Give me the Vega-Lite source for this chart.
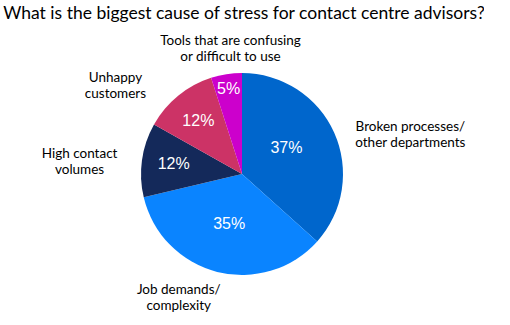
{
  "$schema": "https://vega.github.io/schema/vega-lite/v6.json",
  "width": 484,
  "height": 296,
  "autosize": "none",
  "padding": {"left": 0, "top": 26, "right": 0, "bottom": 0},
  "background": "white",
  "title": {
    "text": "What is the biggest cause of stress for contact centre advisors?",
    "font": "Lato",
    "fontSize": 17.5,
    "fontWeight": "normal",
    "color": "#000000",
    "anchor": "middle",
    "offset": 4,
    "dx": 2
  },
  "data": {
    "values": [
      {"cause": "Broken processes/\nother departments", "pct": 37, "label": "37%", "rank": 1},
      {"cause": "Job demands/\ncomplexity", "pct": 35, "label": "35%", "rank": 2},
      {"cause": "High contact\nvolumes", "pct": 12, "label": "12%", "rank": 3},
      {"cause": "Unhappy\ncustomers", "pct": 12, "label": "12%", "rank": 4},
      {"cause": "Tools that are confusing\nor difficult to use", "pct": 5, "label": "5%", "rank": 5}
    ]
  },
  "encoding": {
    "theta": {"field": "pct", "type": "quantitative", "stack": true},
    "order": {"field": "rank", "type": "quantitative"},
    "detail": {"field": "cause", "type": "nominal"}
  },
  "layer": [
    {
      "mark": {"type": "arc", "outerRadius": 101},
      "encoding": {
        "color": {
          "field": "cause",
          "type": "nominal",
          "scale": {
            "domain": [
              "Broken processes/\nother departments",
              "Job demands/\ncomplexity",
              "High contact\nvolumes",
              "Unhappy\ncustomers",
              "Tools that are confusing\nor difficult to use"
            ],
            "range": ["#0066CC", "#0A84FF", "#14295A", "#CC3366", "#CC00CC"]
          },
          "legend": null
        }
      }
    },
    {
      "mark": {
        "type": "text",
        "font": "Liberation Sans",
        "fontSize": 16,
        "color": "white",
        "align": "center",
        "baseline": "middle",
        "radius": {"expr": "datum.pct >= 30 ? 52 : (datum.pct >= 10 ? 69 : 86)"},
        "dx": {"expr": "datum.rank == 1 ? -3 : 0"},
        "dy": {"expr": "datum.rank == 1 ? -5 : 0"}
      },
      "encoding": {"text": {"field": "label", "type": "nominal"}}
    },
    {
      "mark": {
        "type": "text",
        "font": "Lato",
        "fontSize": 13.5,
        "color": "#000000",
        "align": "center",
        "baseline": "middle",
        "lineBreak": "\n",
        "lineHeight": 16,
        "radius": {"expr": "[169, 135, 162, 148, 126][datum.rank - 1]"},
        "dx": {"expr": "[14, -30, -2, -33, 8][datum.rank - 1]"},
        "dy": {"expr": "[22, -15, 3, 19, -9][datum.rank - 1]"}
      },
      "encoding": {"text": {"field": "cause", "type": "nominal"}}
    }
  ],
  "config": {"view": {"stroke": null}}
}
